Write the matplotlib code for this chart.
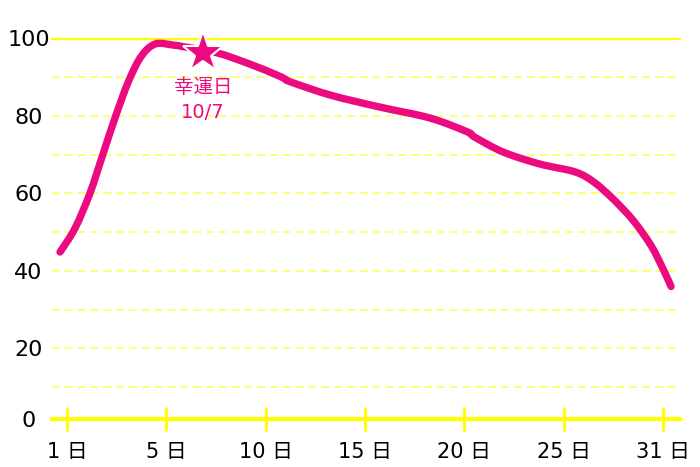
import numpy as np
import matplotlib.pyplot as plt
from matplotlib.path import Path
from matplotlib.patches import PathPatch

plt.rcParams['font.family'] = ['DejaVu Sans', 'Noto Sans CJK JP']

# x positions are in tick units (0 = "1 日", 6 = "31 日")
tick_labels = ['1 日', '5 日', '10 日', '15 日', '20 日', '25 日', '31 日']
ytick_values = [20, 40, 60, 80, 100]

curve_x = [-0.07, 0.08, 0.23, 0.36, 0.49, 0.62, 0.75, 0.89, 1.07, 1.19,
           1.51, 1.84, 2.11, 2.19, 2.25, 2.65, 3.15, 3.65, 4.03, 4.10,
           4.39, 4.76, 5.11, 5.30, 5.50, 5.70, 5.88, 6.00, 6.08]
curve_y = [44.9, 51.0, 60.0, 70.0, 80.0, 89.0, 95.5, 98.6, 98.3, 97.8,
           96.3, 93.4, 90.6, 89.6, 88.8, 85.4, 82.3, 79.5, 75.9, 74.6,
           70.7, 67.6, 65.6, 63.0, 58.5, 53.0, 46.5, 40.5, 36.0]

star_x, star_y = 1.37, 96.2
star_label = '幸運日'
star_date = '10/7'

pink = '#ec0a80'
yellow = '#ffff00'
y_bottom = 1.8


def smooth_path(x, y):
    # catmull-rom through the points, drawn as cubic bezier segments
    pts = np.column_stack([x, y])
    n = len(pts)
    verts = [pts[0]]
    codes = [Path.MOVETO]
    for i in range(n - 1):
        p0 = pts[max(i - 1, 0)]
        p1 = pts[i]
        p2 = pts[i + 1]
        p3 = pts[min(i + 2, n - 1)]
        verts += [p1 + (p2 - p0) / 6, p2 - (p3 - p1) / 6, p2]
        codes += [Path.CURVE4] * 3
    return Path(verts, codes)


fig = plt.figure(figsize=(7, 4.67), dpi=100)
ax = fig.add_axes([52/700, 48/467, (680-52)/700, (419-38.5)/467])
ax.set_xlim(-0.151, 6.17)
ax.set_ylim(y_bottom, 100)

for s in ['top', 'right', 'left']:
    ax.spines[s].set_visible(False)
ax.spines['bottom'].set_color(yellow)
ax.spines['bottom'].set_linewidth(3)

for v in range(10, 100, 10):
    ax.axhline(v, color='#ffff70', lw=1.4, dashes=(4, 2.6), zorder=1)
ax.axhline(100, color=yellow, lw=1.6, clip_on=False, zorder=1)

ax.set_xticks(range(len(tick_labels)), tick_labels)
ax.tick_params(axis='x', direction='inout', length=17, width=2.2, color=yellow,
               labelsize=15, pad=8)
ax.set_yticks([y_bottom] + ytick_values, ['0'] + [str(v) for v in ytick_values])
ax.tick_params(axis='y', length=0, pad=17, labelsize=16)
for lbl in ax.get_yticklabels():
    lbl.set_horizontalalignment('center')

line = PathPatch(smooth_path(curve_x, curve_y), fill=False, ec=pink, lw=5.3,
                 capstyle='round', joinstyle='round', clip_on=False, zorder=3)
ax.add_patch(line)
ax.plot(star_x, star_y, marker='*', ms=31, color=pink, mec='white', mew=1.5,
        clip_on=False, zorder=4)
ax.annotate(star_label, (star_x, star_y), xytext=(0, -24.5), textcoords='offset points',
            ha='center', va='center', fontsize=14, color=pink)
ax.annotate(star_date, (star_x, star_y), xytext=(0, -42.5), textcoords='offset points',
            ha='center', va='center', fontsize=14, color=pink)

fig.savefig('out.png', dpi=100)
